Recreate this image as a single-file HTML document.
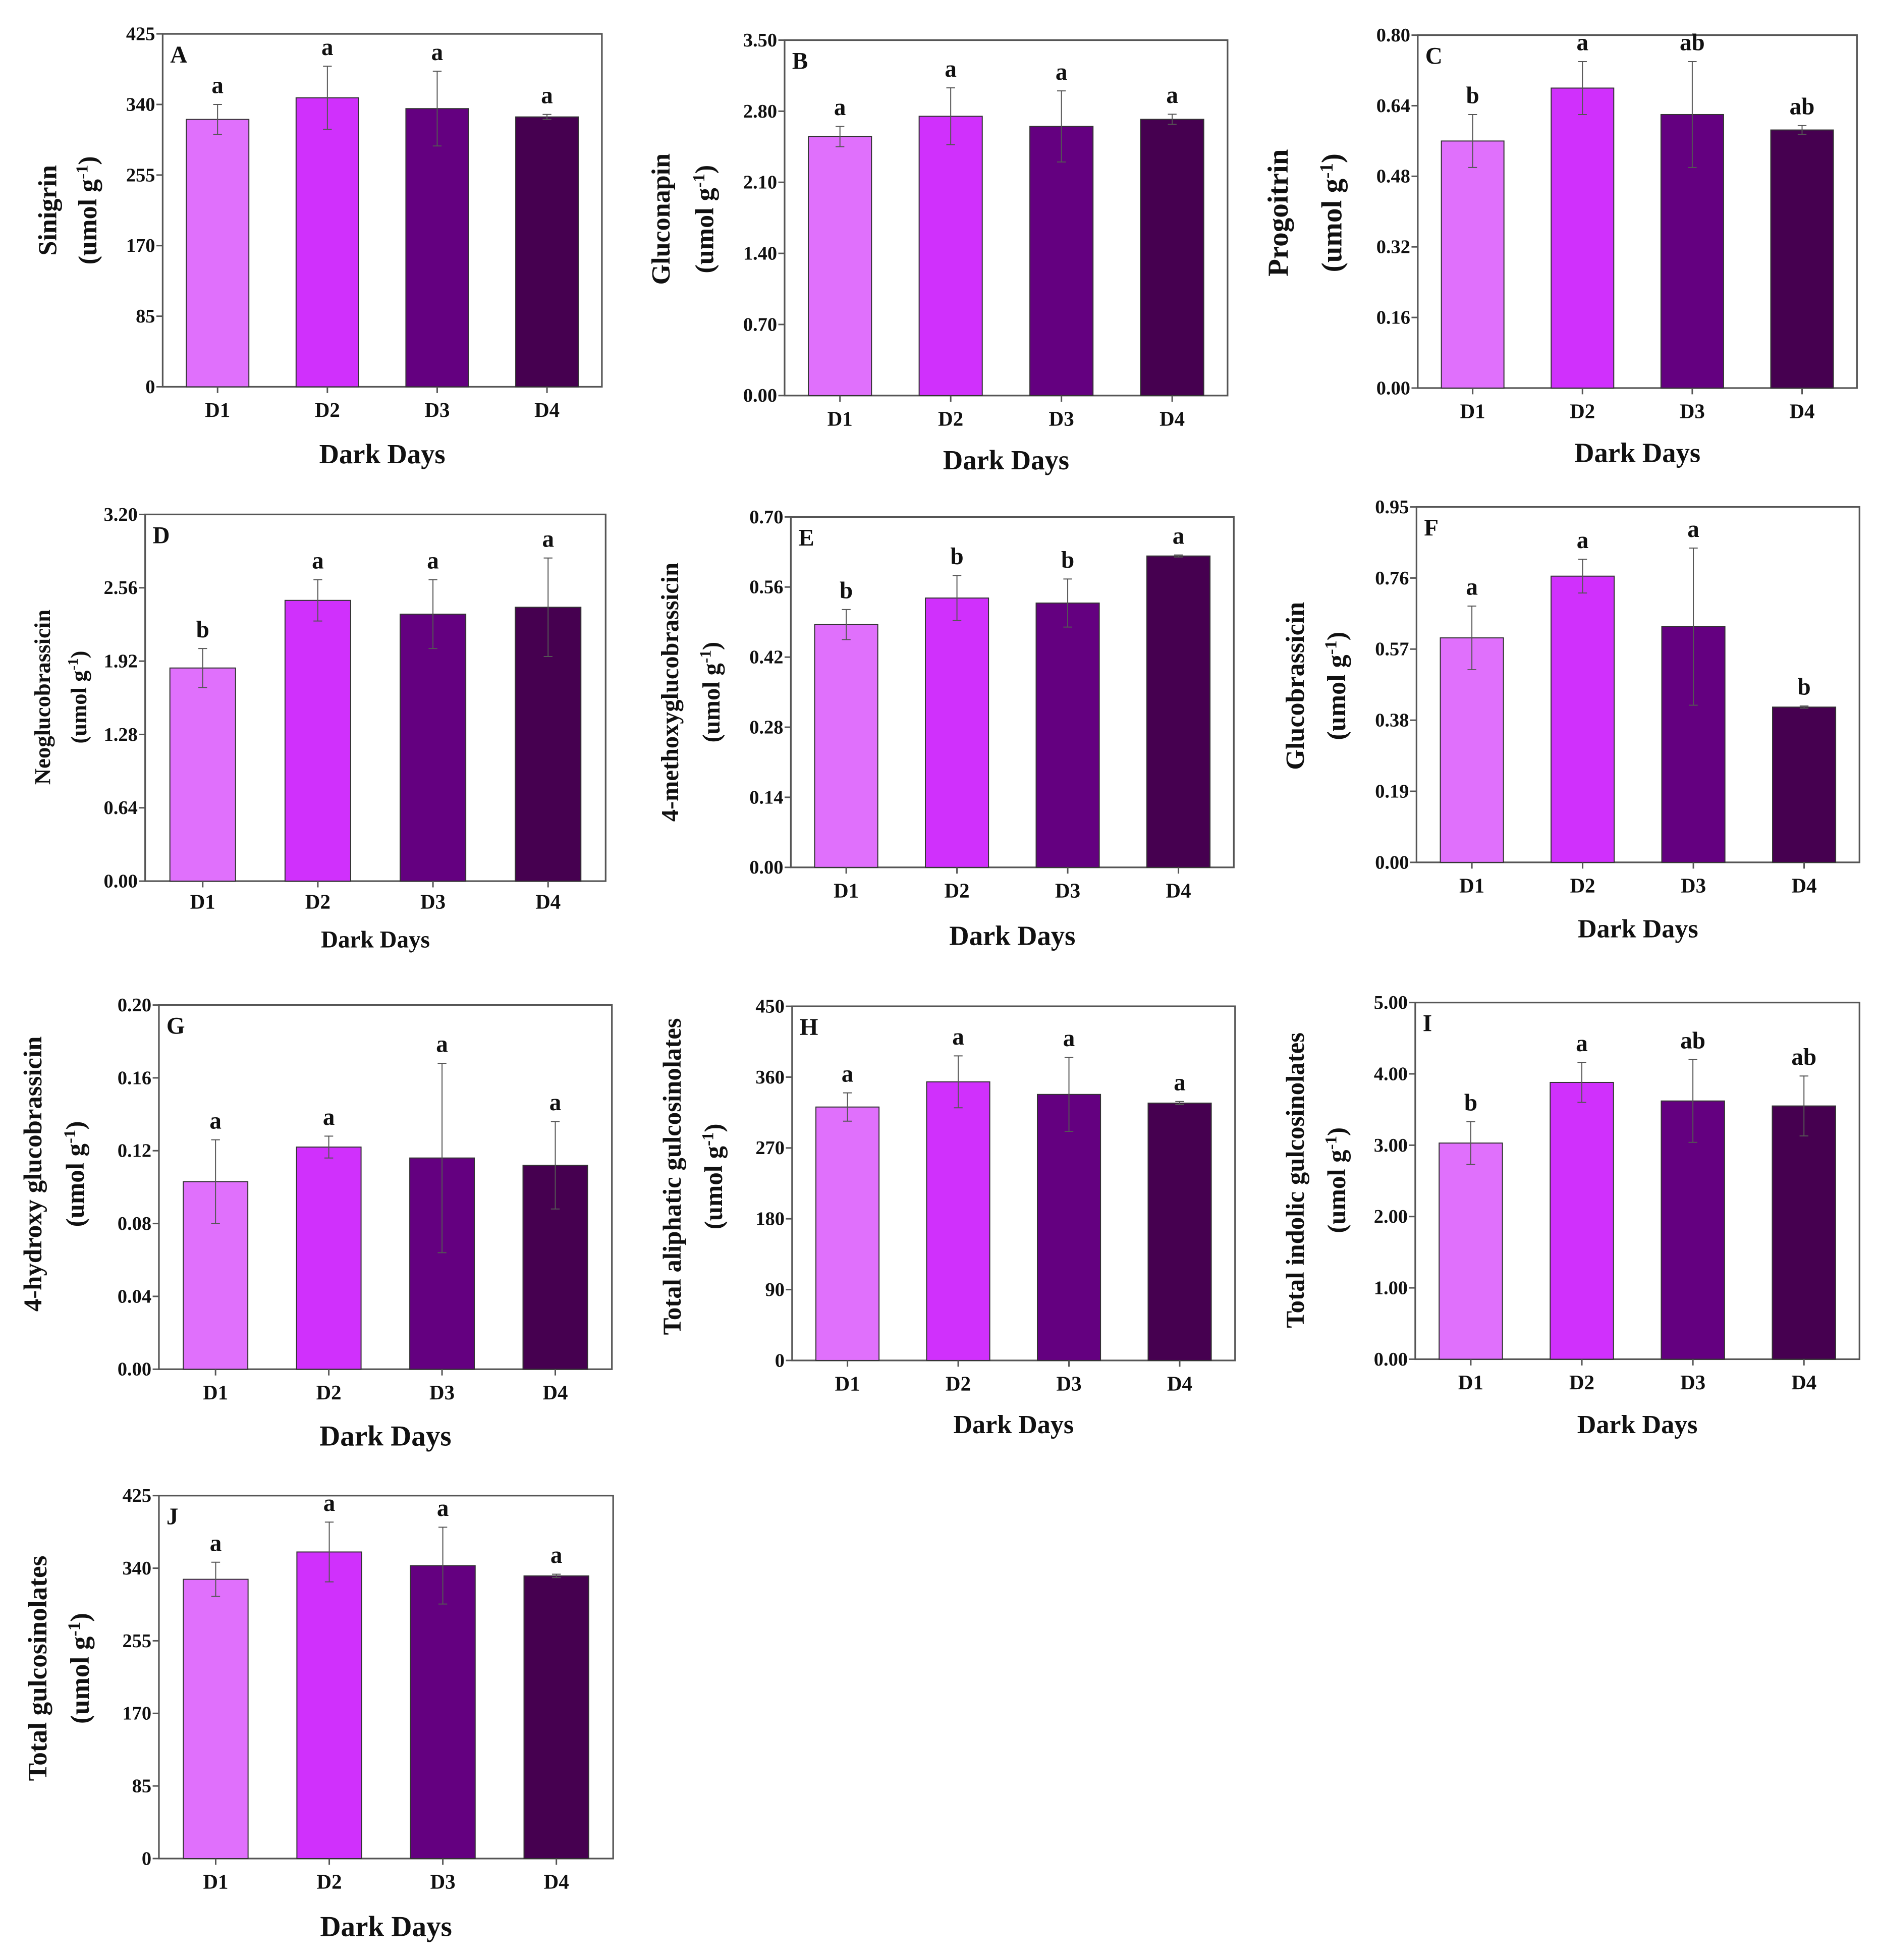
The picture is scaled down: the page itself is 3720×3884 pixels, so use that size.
<!DOCTYPE html>
<html><head><meta charset="utf-8"><style>
html,body{margin:0;padding:0;background:#fff;}
svg{display:block;}
text{font-family:"Liberation Serif",serif;font-weight:bold;fill:#111;}
</style></head><body>
<svg id="fig" width="3720" height="3884" viewBox="0 0 1500 1566" xmlns="http://www.w3.org/2000/svg"></svg>
<script>
const categories = ["D1","D2","D3","D4"];
const colors = ["#e070fc","#d030fc","#640080","#460050"];
const valuesA = [322,348,335,325];   const errA = [18,38,45,3];   const letA = ["a","a","a","a"];
const valuesB = [2.55,2.75,2.65,2.72]; const errB = [0.1,0.28,0.35,0.05]; const letB = ["a","a","a","a"];
const valuesC = [0.56,0.68,0.62,0.585]; const errC = [0.06,0.06,0.12,0.01]; const letC = ["b","a","ab","ab"];
const valuesD = [1.86,2.45,2.33,2.39]; const errD = [0.17,0.18,0.3,0.43]; const letD = ["b","a","a","a"];
const valuesE = [0.485,0.538,0.528,0.622]; const errE = [0.03,0.045,0.048,0.002]; const letE = ["b","b","b","a"];
const valuesF = [0.60,0.765,0.63,0.415]; const errF = [0.085,0.045,0.21,0.003]; const letF = ["a","a","a","b"];
const valuesG = [0.103,0.122,0.116,0.112]; const errG = [0.023,0.006,0.052,0.024]; const letG = ["a","a","a","a"];
const valuesH = [322,354,338,327]; const errH = [18,33,47,2]; const letH = ["a","a","a","a"];
const valuesI = [3.03,3.88,3.62,3.55]; const errI = [0.3,0.28,0.58,0.42]; const letI = ["b","a","ab","ab"];
const valuesJ = [327,359,343,331]; const errJ = [20,35,45,2]; const letJ = ["a","a","a","a"];
const ticksA = ["0","85","170","255","340","425"];
const ticksB = ["0.00","0.70","1.40","2.10","2.80","3.50"];
const ticksC = ["0.00","0.16","0.32","0.48","0.64","0.80"];
const ticksD = ["0.00","0.64","1.28","1.92","2.56","3.20"];
const ticksE = ["0.00","0.14","0.28","0.42","0.56","0.70"];
const ticksF = ["0.00","0.19","0.38","0.57","0.76","0.95"];
const ticksG = ["0.00","0.04","0.08","0.12","0.16","0.20"];
const ticksH = ["0","90","180","270","360","450"];
const ticksI = ["0.00","1.00","2.00","3.00","4.00","5.00"];
const ticksJ = ["0","85","170","255","340","425"];

const NS="http://www.w3.org/2000/svg";
const svg=document.getElementById('fig');
function mk(tag,attrs,parent){const e=document.createElementNS(NS,tag);for(const k in attrs)e.setAttribute(k,attrs[k]);(parent||svg).appendChild(e);return e;}

const panels=[
 {id:"A",t:"Sinigrin",v:valuesA,e:errA,l:letA,tk:ticksA,L:130,R:481,T:27,B:309,xl:327,dd:363,ylx:38,ylx2:70,ycy:168,ddf:22,ylf:21},
 {id:"B",t:"Gluconapin",v:valuesB,e:errB,l:letB,tk:ticksB,L:627,R:981,T:32,B:316,xl:334,dd:368,ylx:528,ylx2:563,ycy:175,ddf:22,ylf:21},
 {id:"C",t:"Progoitrin",v:valuesC,e:errC,l:letC,tk:ticksC,L:1133,R:1484,T:28,B:310,xl:328,dd:362,ylx:1022,ylx2:1065,ycy:170,ddf:22,ylf:23},
 {id:"D",t:"Neoglucobrassicin",v:valuesD,e:errD,l:letD,tk:ticksD,L:116,R:484,T:411,B:704,xl:720,dd:750,ylx:33,ylx2:62,ycy:557,ddf:19,ylf:18},
 {id:"E",t:"4-methoxyglucobrassicin",v:valuesE,e:errE,l:letE,tk:ticksE,L:632,R:986,T:413,B:693,xl:711,dd:748,ylx:535,ylx2:568,ycy:553,ddf:22,ylf:19.5},
 {id:"F",t:"Glucobrassicin",v:valuesF,e:errF,l:letF,tk:ticksF,L:1132,R:1486,T:405,B:689,xl:707,dd:742,ylx:1035,ylx2:1068,ycy:548,ddf:21,ylf:21},
 {id:"G",t:"4-hydroxy glucobrassicin",v:valuesG,e:errG,l:letG,tk:ticksG,L:127,R:489,T:803,B:1094,xl:1112,dd:1148,ylx:26,ylx2:60,ycy:938,ddf:23,ylf:20.5},
 {id:"H",t:"Total aliphatic gulcosinolates",v:valuesH,e:errH,l:letH,tk:ticksH,L:633,R:987,T:804,B:1087,xl:1105,dd:1138,ylx:537,ylx2:570,ycy:940,ddf:21,ylf:20.5},
 {id:"I",t:"Total indolic gulcosinolates",v:valuesI,e:errI,l:letI,tk:ticksI,L:1131,R:1486,T:801,B:1086,xl:1104,dd:1138,ylx:1035,ylx2:1068,ycy:943,ddf:21,ylf:20.5},
 {id:"J",t:"Total gulcosinolates",v:valuesJ,e:errJ,l:letJ,tk:ticksJ,L:127,R:490,T:1195,B:1485,xl:1503,dd:1540,ylx:30,ylx2:64,ycy:1333,ddf:23,ylf:21.5}
];

panels.forEach(p=>{
  const g=mk('g',{});
  
  
  const ymax=parseFloat(p.tk[p.tk.length-1]);
  const y=v=>p.B-(v/ymax)*(p.B-p.T);
  const step=(p.R-p.L)/4;
  const x=i=>p.L+step*(i+0.5);
  const bw=step*0.57;
  const fr=mk('rect',{x:p.L,y:p.T,width:p.R-p.L,height:p.B-p.T,fill:'none',stroke:'#555','stroke-width':1.3},g);
  
  
  p.tk.forEach(t=>{
    const yy=y(parseFloat(t));
    mk('line',{x1:p.L-5,x2:p.L,y1:yy,y2:yy,stroke:'#555','stroke-width':1.2},g);
    const tx=mk('text',{x:p.L-6,y:yy+5,'font-size':15.5,'text-anchor':'end'},g);
    tx.textContent=t;
    
    
  });
  categories.forEach((c,i)=>{
    const v=p.v[i],e=p.e[i];
    const r=mk('rect',{x:x(i)-bw/2,y:y(v),width:bw,height:p.B-y(v),fill:colors[i],stroke:'#333','stroke-width':0.8},g);
    
    
    const el=mk('path',{d:`M${x(i)},${y(v+e)}V${y(v-e)}M${x(i)-3.5},${y(v+e)}h7M${x(i)-3.5},${y(v-e)}h7`,stroke:'#555','stroke-width':0.8,fill:'none'},g);
    
    
    const lt=mk('text',{x:x(i),y:y(v+e)-9,'font-size':19,'text-anchor':'middle'},g);
    lt.textContent=p.l[i];
    
    
    mk('line',{x1:x(i),x2:x(i),y1:p.B,y2:p.B+5,stroke:'#555','stroke-width':1.2},g);
    const xt=mk('text',{x:x(i),y:p.xl+6,'font-size':16.5,'text-anchor':'middle'},g);
    xt.textContent=c;
    
    
  });
  const pl=mk('text',{x:p.L+6,y:p.T+23,'font-size':19},g);
  pl.textContent=p.id;
  
  
  const xt=mk('text',{x:(p.L+p.R)/2,y:p.dd+7,'font-size':p.ddf,'text-anchor':'middle'},g);
  xt.textContent='Dark Days';
  
  
  const yt=mk('text',{x:0,y:0,'font-size':p.ylf,'text-anchor':'middle',transform:`translate(${p.ylx+7},${p.ycy}) rotate(-90)`},g);
  yt.textContent=p.t;
  
  
  const yu=mk('text',{x:0,y:0,'font-size':p.ylf,'text-anchor':'middle',transform:`translate(${p.ylx2+7},${p.ycy}) rotate(-90)`},g);
  yu.innerHTML='(umol g<tspan dy="-7" font-size="'+(p.ylf*0.65)+'">-1</tspan><tspan dy="7">)</tspan>';
  
  
});
</script>
</body></html>
